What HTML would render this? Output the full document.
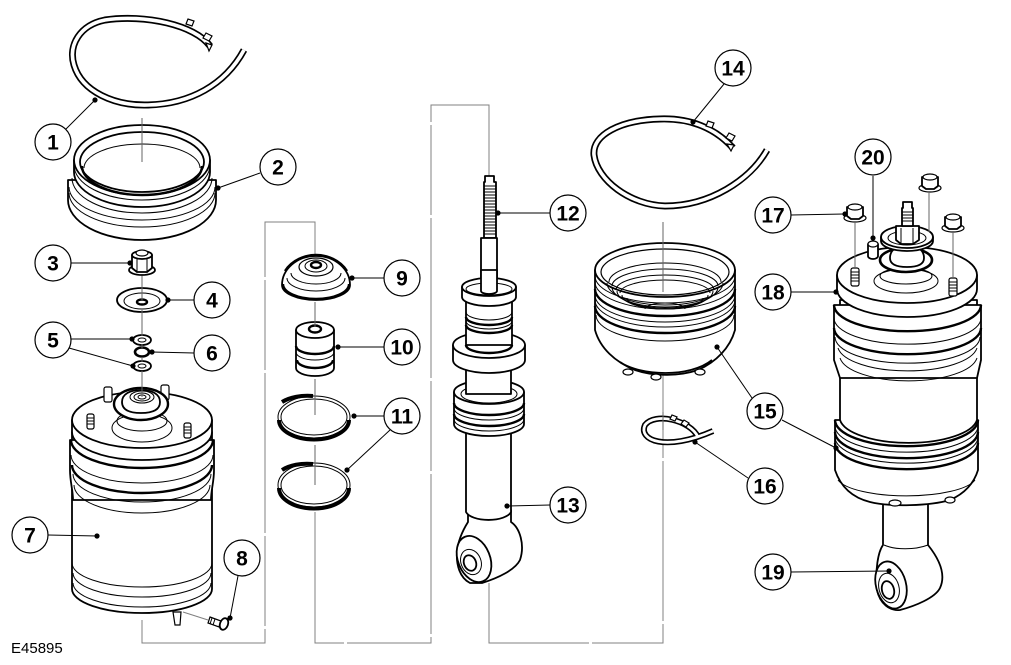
<!DOCTYPE html>
<html><head><meta charset="utf-8"><style>
html,body{margin:0;padding:0;background:#fff}
svg{display:block}
.p{fill:#fff;stroke:#000;stroke-width:1.8;stroke-linejoin:round}
.q{fill:#fff;stroke:#000;stroke-width:1.2}
.d{fill:none;stroke:#000;stroke-width:1}
.t{fill:none;stroke:#000;stroke-width:2.4}
.g{fill:none;stroke:#808080;stroke-width:1;stroke-dasharray:160 3 90 3}
.l{stroke:#000;stroke-width:1;fill:none}
.c{fill:#fff;stroke:#000;stroke-width:1.2}
.n{font-family:"Liberation Sans",sans-serif;font-weight:bold;font-size:21px;text-anchor:middle}
</style></head><body>
<svg width="1011" height="665" viewBox="0 0 1011 665" xmlns="http://www.w3.org/2000/svg">

<!-- bracket guide lines (behind parts) -->
<path class="g" d="M142,620 V643 H265 V222 H315 V256"/>
<path class="g" d="M315,512 V643 H431 V105 H489 V178"/>
<path class="g" d="M489,583 V643 H663 V375"/>

<!-- ===== PART 1 band ===== -->
<path d="M210,46 C195,25 145,14 105,20 C80,25 68,45 74,65 C82,92 115,106 148,105 C190,104 225,85 244,50" fill="none" stroke="#000" stroke-width="7"/>
<path d="M210,46 C195,25 145,14 105,20 C80,25 68,45 74,65 C82,92 115,106 148,105 C190,104 225,85 244,50" fill="none" stroke="#fff" stroke-width="3.6"/>
<path class="q" d="M186,24 l2,-5 l6,2 l-2,5 Z"/>
<path class="q" d="M203,38 l3,-5 l6,3 l-3,5 Z"/>
<path class="q" d="M206,43 l6,2 l-3,6 Z"/>

<!-- ===== PART 2 ring ===== -->
<path class="p" d="M68,180 L68,200 A74,40 0 0 0 216,200 L216,180 Z"/>
<path class="d" d="M69,187 A73,33 0 0 0 215,187"/>
<path class="d" d="M69,193 A73,34 0 0 0 215,193"/>
<path class="d" d="M72,178 A70,35 0 0 0 212,178"/>
<path class="p" d="M74,160 L74,172 A68,35 0 0 0 210,172 L210,160 Z"/>
<path class="d" d="M74,165 A68,35 0 0 0 210,165"/>
<ellipse class="p" cx="142" cy="160" rx="68" ry="35"/>
<ellipse class="p" cx="142" cy="162" rx="62" ry="30"/>
<path class="d" d="M84,168 A58,24 0 0 1 200,168"/>
<path class="t" d="M82,166 A60,29 0 0 0 202,166"/>

<!-- ===== PART 3 nut ===== -->
<ellipse class="p" cx="142" cy="270" rx="13" ry="5"/>
<path class="p" d="M132,255 L132,268 L137,272 L147,272 L152,268 L152,255 Z"/>
<path class="d" d="M137,257 V271 M147,257 V271"/>
<ellipse class="p" cx="142" cy="255" rx="10" ry="4"/>
<ellipse class="q" cx="142" cy="253" rx="6" ry="3"/>

<!-- ===== PART 4 washer ===== -->
<ellipse class="p" cx="142" cy="300" rx="25" ry="12"/>
<ellipse class="d" cx="142" cy="301" rx="18" ry="8"/>
<ellipse class="t" cx="142" cy="302" rx="5" ry="2.5"/>

<!-- ===== PART 5/6 ===== -->
<ellipse class="p" cx="142" cy="340" rx="9" ry="5"/>
<ellipse class="d" cx="142" cy="340" rx="4" ry="2"/>
<ellipse fill="#fff" stroke="#000" stroke-width="2.6" cx="142" cy="352" rx="7" ry="4.5"/>
<ellipse class="p" cx="142" cy="366" rx="9" ry="5"/>
<ellipse class="d" cx="142" cy="366" rx="4" ry="2"/>

<!-- ===== PART 7 air spring ===== -->
<path class="p" d="M72,432 L72,589 A70,24 0 0 0 212,589 L212,432 Z"/>
<path class="d" d="M72,563 A70,24 0 0 0 212,563"/>
<path class="d" d="M73,573 A69,24 0 0 0 211,573"/>
<path class="d" d="M73,583 A69,24 0 0 0 211,583"/>
<path class="p" d="M70,440 L70,470 C70,482 73,490 73,500 L211,500 C211,490 214,482 214,470 L214,440 Z"/>
<path class="t" d="M71,440 A71,28 0 0 0 213,440"/>
<path class="d" d="M71,455 A71,28 0 0 0 213,455"/>
<path class="t" d="M72,465 A70,28 0 0 0 212,465"/>
<path class="d" d="M73,474 A69,28 0 0 0 211,474"/>
<path class="d" d="M74,485 A68,28 0 0 0 210,485"/>
<path class="p" d="M72,420 L72,432 A70,28 0 0 0 212,432 L212,420 Z"/>
<ellipse class="p" cx="142" cy="420" rx="70" ry="28"/>
<ellipse class="d" cx="142" cy="428" rx="30" ry="14"/>
<ellipse class="d" cx="142" cy="421" rx="25" ry="10"/>
<rect class="q" x="87" y="414" width="7" height="15" rx="2"/>
<path class="d" d="M87,418 h7 M87,421 h7 M87,424 h7"/>
<rect class="q" x="184" y="423" width="7" height="15" rx="2"/>
<path class="d" d="M184,427 h7 M184,430 h7 M184,433 h7"/>
<rect class="q" x="104" y="387" width="8" height="15" rx="2"/>
<rect class="q" x="161" y="385" width="8" height="15" rx="2"/>
<ellipse fill="#fff" stroke="#000" stroke-width="2.4" cx="141" cy="404" rx="27" ry="16"/>
<path class="p" d="M122,402 C122,394 130,390 141,390 C152,390 160,394 160,402 C160,410 152,413 141,413 C130,413 122,410 122,402 Z"/>
<ellipse class="d" cx="142" cy="397" rx="12" ry="6"/>
<ellipse class="d" cx="142" cy="397" rx="8" ry="4"/>
<ellipse class="d" cx="142" cy="397" rx="4" ry="2"/>
<path class="q" d="M173,612 l2,13 l5,0 l1,-13 Z"/>

<!-- ===== PART 8 screw ===== -->
<path class="q" d="M210,617 L221,621 L219,627 L208,623 Z"/>
<path class="d" d="M212,618 l-2,6 M215,619 l-2,6"/>
<ellipse class="p" cx="224" cy="624" rx="4" ry="6" transform="rotate(20 224 624)"/>
<path class="g" d="M183,612 L208,620"/>

<!-- ===== PART 9 top mount ===== -->
<path class="p" d="M282,285 C282,270 296,256 316,256 C336,256 350,270 350,285 A34,15 0 0 1 282,285 Z"/>
<path class="t" d="M283,284 A33,15 0 0 0 349,284"/>
<path class="d" d="M287,278 A29,13 0 0 0 345,278"/>
<path class="d" d="M291,273 A25,11 0 0 0 341,273"/>
<ellipse class="q" cx="316" cy="267" rx="17" ry="9"/>
<ellipse class="d" cx="316" cy="266" rx="11" ry="6"/>
<ellipse class="t" cx="316" cy="265" rx="5" ry="3"/>
<path class="t" d="M285,271 C292,260 305,255 316,255 C327,255 340,260 347,271"/>

<!-- ===== PART 10 bump stop ===== -->
<path class="p" d="M296,330 L296,368 A19,8 0 0 0 334,368 L334,330 Z"/>
<path class="t" d="M296,346 A19,8 0 0 0 334,346"/>
<path class="d" d="M296,352 A19,8 0 0 0 334,352"/>
<path class="t" d="M297,360 A18,8 0 0 0 333,360"/>
<ellipse class="p" cx="315" cy="330" rx="19" ry="8"/>
<ellipse class="t" cx="315" cy="329" rx="6" ry="3.5"/>

<!-- ===== PART 11 rings ===== -->
<ellipse class="d" cx="314" cy="417" rx="36" ry="21"/>
<ellipse class="d" cx="314" cy="417" rx="33" ry="18"/>
<path d="M279,420 A35,19.5 0 0 0 349,420" fill="none" stroke="#000" stroke-width="4"/>
<ellipse class="d" cx="314" cy="485" rx="36" ry="22"/>
<ellipse class="d" cx="314" cy="485" rx="33" ry="19"/>
<path d="M279,488 A35,20.5 0 0 0 349,488" fill="none" stroke="#000" stroke-width="4"/>
<path d="M282,470 A33,18 0 0 1 313,464" fill="none" stroke="#000" stroke-width="4"/>
<path d="M282,402 A33,17 0 0 1 313,396" fill="none" stroke="#000" stroke-width="4"/>

<!-- ===== PART 12/13 shock ===== -->
<path class="p" d="M485,176 L494,176 L494,182 L496,182 L496,238 L484,238 L484,182 L485,182 Z"/>
<path class="d" d="M484,186h12M484,189h12M484,192h12M484,195h12M484,198h12M484,201h12M484,204h12M484,207h12M484,210h12M484,213h12M484,216h12M484,219h12M484,222h12M484,225h12M484,228h12M484,231h12M484,234h12"/>
<rect class="p" x="481" y="238" width="16" height="52"/>
<!-- eye -->
<path class="p" d="M468,510 L511,510 L511,522 C520,528 525,545 520,560 C515,570 498,578 482,583 L470,583 C460,578 456,565 457,552 C458,540 463,530 468,522 Z"/>
<ellipse class="p" cx="474" cy="559" rx="16" ry="24" transform="rotate(-22 474 559)"/>
<ellipse class="d" cx="471" cy="562" rx="10" ry="13" transform="rotate(-22 471 562)"/>
<ellipse class="p" cx="470" cy="563" rx="6" ry="8" transform="rotate(-22 470 563)"/>
<!-- tube -->
<path class="p" d="M466,430 L466,512 A23,10 0 0 0 511,512 L511,430 Z"/>
<!-- lower ring -->
<path class="p" d="M454,392 L454,424 A35,12 0 0 0 524,424 L524,392 Z"/>
<path class="t" d="M454,403 A35,12 0 0 0 524,403"/>
<path class="d" d="M454,408 A35,12 0 0 0 524,408"/>
<path class="t" d="M454,414 A35,12 0 0 0 524,414"/>
<path class="d" d="M454,419 A35,12 0 0 0 524,419"/>
<ellipse class="p" cx="489" cy="392" rx="35" ry="12"/>
<ellipse class="d" cx="489" cy="394" rx="28" ry="9"/>
<rect class="p" x="466" y="370" width="45" height="24"/>
<!-- flange -->
<path class="p" d="M453,345 L453,360 A36,13 0 0 0 525,360 L525,345 Z"/>
<ellipse class="p" cx="489" cy="345" rx="36" ry="13"/>
<rect class="p" x="466" y="300" width="46" height="45"/>
<path class="t" d="M466,345 A23,8 0 0 0 512,345"/>
<path class="d" d="M466,312 A23,8 0 0 0 512,312"/>
<path class="t" d="M466,317 A23,8 0 0 0 512,317"/>
<path class="d" d="M466,321 A23,8 0 0 0 512,321"/>
<path class="t" d="M466,325 A23,8 0 0 0 512,325"/>
<!-- top ring -->
<path class="p" d="M462,287 L462,297 A27,9 0 0 0 516,297 L516,287 Z"/>
<ellipse class="p" cx="489" cy="287" rx="27" ry="9"/>
<ellipse class="d" cx="489" cy="289" rx="23" ry="6"/>
<path class="p" d="M481,270 L481,291 A8,3 0 0 0 497,291 L497,270 Z" />

<!-- ===== PART 14 band ===== -->
<path d="M733,148 C715,128 690,118 660,119 C620,120 592,135 594,155 C597,180 630,205 665,206 C710,206 750,180 767,150" fill="none" stroke="#000" stroke-width="7"/>
<path d="M733,148 C715,128 690,118 660,119 C620,120 592,135 594,155 C597,180 630,205 665,206 C710,206 750,180 767,150" fill="none" stroke="#fff" stroke-width="3.6"/>
<path class="q" d="M706,126 l2,-5 l6,2 l-2,5 Z"/>
<path class="q" d="M726,138 l3,-5 l6,3 l-3,5 Z"/>
<path class="q" d="M727,144 l7,1 l-3,6 Z"/>

<!-- ===== PART 15 cup ===== -->
<path class="p" d="M595,270 L595,330 C600,348 615,362 635,370 C655,377 680,376 698,370 C716,362 730,348 735,330 L735,270 Z"/>
<ellipse class="q" cx="628" cy="372" rx="5" ry="3"/>
<ellipse class="q" cx="656" cy="377" rx="5" ry="3"/>
<ellipse class="q" cx="700" cy="372" rx="5" ry="3"/>
<path class="p" d="M620,362 C640,376 690,378 712,360" />
<path class="d" d="M595,276 A70,27 0 0 0 735,276"/>
<path class="d" d="M595,282 A70,27 0 0 0 735,282"/>
<path class="t" d="M595,289 A70,27 0 0 0 735,289"/>
<path class="d" d="M595,295 A70,27 0 0 0 735,295"/>
<path class="d" d="M595,300 A70,27 0 0 0 735,300"/>
<path class="t" d="M595,306 A70,27 0 0 0 735,306"/>
<path class="d" d="M596,315 A69,26 0 0 0 734,315"/>
<ellipse class="p" cx="665" cy="270" rx="70" ry="27"/>
<ellipse class="q" cx="665" cy="272" rx="64" ry="23"/>
<path class="d" d="M609,282 A56,19 0 0 1 721,282"/>
<path class="d" d="M612,286 A53,17 0 0 1 718,286"/>
<path class="d" d="M616,290 A49,15 0 0 1 714,290"/>
<path class="d" d="M620,293 A45,13 0 0 1 710,293"/>
<path class="d" d="M607,283 A58,22 0 0 0 723,283"/>
<path class="d" d="M612,287 A53,20 0 0 0 718,287"/>
<path class="d" d="M617,291 A48,17 0 0 0 713,291"/>
<path class="d" d="M622,295 A43,14 0 0 0 708,295"/>
<path class="d" d="M627,298 A38,11 0 0 0 703,298"/>
<path class="d" d="M645,309 A20,6 0 0 1 685,309"/>

<!-- ===== PART 16 clip ===== -->
<path d="M698,437 C690,420 655,412 645,425 C638,440 665,452 713,431" fill="none" stroke="#000" stroke-width="6"/>
<path d="M698,437 C690,420 655,412 645,425 C638,440 665,452 713,431" fill="none" stroke="#fff" stroke-width="2.8"/>
<path class="q" d="M670,419 l2,-4 l5,2 l-2,4 Z"/>
<path class="q" d="M681,424 l3,-4 l5,3 l-3,4 Z"/>

<!-- ===== RIGHT ASSEMBLY ===== -->
<path class="p" d="M883,490 L883,545 C878,552 875,570 877,590 C880,604 890,611 900,610 C915,606 935,598 940,588 C946,575 940,560 928,545 L928,490 Z"/>
<ellipse class="p" cx="891" cy="585" rx="15" ry="24" transform="rotate(-15 891 585)"/>
<ellipse class="d" cx="889" cy="588" rx="10" ry="15" transform="rotate(-15 889 588)"/>
<ellipse class="p" cx="888" cy="590" rx="6" ry="9" transform="rotate(-15 888 590)"/>
<path class="d" d="M884,545 C895,550 915,550 928,545"/>
<path class="p" d="M835,420 L835,470 C840,485 850,497 870,502 C890,507 930,506 950,500 C968,492 975,480 978,470 L978,420 Z"/>
<ellipse class="q" cx="895" cy="503" rx="6" ry="3"/>
<ellipse class="q" cx="950" cy="500" rx="5" ry="3"/>
<path class="d" d="M838,480 A70,20 0 0 0 975,480"/>
<path class="t" d="M835,420 A71,26 0 0 0 978,420"/>
<path class="d" d="M835,426 A71,26 0 0 0 978,426"/>
<path class="t" d="M835,432 A71,26 0 0 0 978,432"/>
<path class="d" d="M835,437 A71,26 0 0 0 978,437"/>
<path class="t" d="M835,443 A71,26 0 0 0 978,443"/>
<path class="p" d="M840,300 L840,420 A69,26 0 0 0 977,420 L977,300 Z"/>
<path class="d" d="M840,420 A69,26 0 0 0 977,420"/>
<path class="p" d="M834,305 L834,360 L840,378 L977,378 L981,360 L981,305 Z"/>
<path class="t" d="M834,305 A73,26 0 0 0 981,305"/>
<path class="d" d="M834,318 A73,26 0 0 0 981,318"/>
<path class="t" d="M834,328 A73,26 0 0 0 981,328"/>
<path class="d" d="M835,337 A72,26 0 0 0 980,337"/>
<path class="d" d="M838,348 A70,26 0 0 0 977,348"/>
<path class="d" d="M840,358 A69,26 0 0 0 977,358"/>
<path class="p" d="M837,275 L837,289 A70,28 0 0 0 977,289 L977,275 Z"/>
<ellipse class="p" cx="907" cy="275" rx="70" ry="28"/>
<ellipse class="d" cx="906" cy="281" rx="32" ry="12"/>
<ellipse class="d" cx="906" cy="276" rx="26" ry="8"/>
<rect class="q" x="851" y="268" width="8" height="18" rx="2"/>
<path class="d" d="M851,272h8M851,275h8M851,278h8M851,281h8"/>
<rect class="q" x="949" y="278" width="8" height="18" rx="2"/>
<path class="d" d="M949,282h8M949,285h8M949,288h8M949,291h8"/>
<path class="p" d="M868,244 L868,256 A5,3 0 0 0 878,256 L878,244 Z"/>
<ellipse class="q" cx="873" cy="244" rx="5" ry="3"/>
<ellipse fill="#fff" stroke="#000" stroke-width="2.6" cx="906" cy="260" rx="26" ry="12"/>
<path class="p" d="M890,258 C890,250 896,246 907,246 C918,246 924,250 924,258 C924,264 918,267 907,267 C896,267 890,264 890,258 Z"/>
<path class="p" d="M881,237 L881,241 A26,10 0 0 0 933,241 L933,237 Z"/>
<ellipse class="p" cx="907" cy="237" rx="26" ry="11"/>
<ellipse class="d" cx="907" cy="238" rx="19" ry="7"/>
<path class="p" d="M896,226 L896,240 L901,244 L913,244 L919,240 L919,226 Z"/>
<path class="d" d="M901,228 V244 M913,228 V244"/>
<path class="p" d="M903,208 L903,202 L912,202 L912,208 L913,208 L913,226 L902,226 L902,208 Z"/>
<path class="d" d="M902,212h11M902,215h11M902,218h11M902,221h11"/>
<g>
<ellipse class="q" cx="855" cy="218" rx="11" ry="4"/>
<path class="p" d="M847,207 L847,216 L851,219 L859,219 L863,216 L863,207 Z"/>
<ellipse class="q" cx="855" cy="207" rx="7" ry="3"/>
</g>
<g>
<ellipse class="q" cx="930" cy="188" rx="11" ry="4"/>
<path class="p" d="M922,177 L922,186 L926,189 L934,189 L938,186 L938,177 Z"/>
<ellipse class="q" cx="930" cy="177" rx="7" ry="3"/>
</g>
<g>
<ellipse class="q" cx="953" cy="228" rx="11" ry="4"/>
<path class="p" d="M945,217 L945,226 L949,229 L957,229 L961,226 L961,217 Z"/>
<ellipse class="q" cx="953" cy="217" rx="7" ry="3"/>
</g>

<!-- center guide lines (on top of parts) -->
<g stroke="#666" stroke-width="1" fill="none">
<path d="M142,118 V162"/>
<path d="M142,276 V300"/>
<path d="M142,310 V336"/>
<path d="M142,344 V348 M142,357 V362"/>
<path d="M142,371 V397"/>
<path d="M315,302 V327"/>
<path d="M315,379 V415"/>
<path d="M315,445 V485"/>
<path d="M663,222 V292"/>
<path d="M663,412 V430"/>
<path d="M855,222 V267"/>
<path d="M929,192 V232"/>
<path d="M953,232 V277"/>
</g>

<!-- leader lines -->
<g class="l">
<path d="M66,129 L95,100"/>
<path d="M260,173 L218,188"/>
<path d="M71,263 L130,263"/>
<path d="M194,300 L168,300"/>
<path d="M71,339 L132,339"/>
<path d="M69,348 L133,366"/>
<path d="M194,353 L152,352"/>
<path d="M48,535 L97,536"/>
<path d="M238,576 L230,618"/>
<path d="M384,278 L352,278"/>
<path d="M384,347 L338,347"/>
<path d="M384,416 L354,416"/>
<path d="M390,430 L347,470"/>
<path d="M550,213 L498,213"/>
<path d="M550,505 L507,506"/>
<path d="M724,84 L693,122"/>
<path d="M717,347 L752,398"/>
<path d="M782,420 L836,448"/>
<path d="M748,478 L695,442"/>
<path d="M791,215 L844,214"/>
<path d="M791,292 L836,292"/>
<path d="M791,572 L889,571"/>
<path d="M873,176 L873,238"/>
</g>
<g fill="#000">
<circle cx="95" cy="100" r="2.6"/>
<circle cx="218" cy="188" r="2.6"/>
<circle cx="130" cy="263" r="2.6"/>
<circle cx="168" cy="300" r="2.6"/>
<circle cx="132" cy="339" r="2.6"/>
<circle cx="133" cy="366" r="2.6"/>
<circle cx="152" cy="352" r="2.6"/>
<circle cx="97" cy="536" r="2.6"/>
<circle cx="230" cy="618" r="2.6"/>
<circle cx="352" cy="278" r="2.6"/>
<circle cx="338" cy="347" r="2.6"/>
<circle cx="354" cy="416" r="2.6"/>
<circle cx="347" cy="470" r="2.6"/>
<circle cx="498" cy="213" r="2.6"/>
<circle cx="507" cy="506" r="2.6"/>
<circle cx="693" cy="122" r="2.6"/>
<circle cx="717" cy="347" r="2.6"/>
<circle cx="836" cy="448" r="2.6"/>
<circle cx="695" cy="442" r="2.6"/>
<circle cx="845" cy="214" r="2.6"/>
<circle cx="836" cy="292" r="2.6"/>
<circle cx="889" cy="571" r="2.6"/>
<circle cx="873" cy="238" r="2.6"/>
</g>

<!-- callouts -->
<g>
<circle class="c" cx="53" cy="142" r="18"/><text class="n" x="53" y="149.5">1</text>
<circle class="c" cx="278" cy="167" r="18"/><text class="n" x="278" y="174.5">2</text>
<circle class="c" cx="53" cy="263" r="18"/><text class="n" x="53" y="270.5">3</text>
<circle class="c" cx="212" cy="300" r="18"/><text class="n" x="212" y="307.5">4</text>
<circle class="c" cx="53" cy="340" r="18"/><text class="n" x="53" y="347.5">5</text>
<circle class="c" cx="212" cy="353" r="18"/><text class="n" x="212" y="360.5">6</text>
<circle class="c" cx="30" cy="535" r="18"/><text class="n" x="30" y="542.5">7</text>
<circle class="c" cx="242" cy="558" r="18"/><text class="n" x="242" y="565.5">8</text>
<circle class="c" cx="402" cy="278" r="18"/><text class="n" x="402" y="285.5">9</text>
<circle class="c" cx="402" cy="347" r="18"/><text class="n" x="402" y="354.5">10</text>
<circle class="c" cx="402" cy="416" r="18"/><text class="n" x="402" y="423.5">11</text>
<circle class="c" cx="568" cy="213" r="18"/><text class="n" x="568" y="220.5">12</text>
<circle class="c" cx="568" cy="505" r="18"/><text class="n" x="568" y="512.5">13</text>
<circle class="c" cx="733" cy="68" r="18"/><text class="n" x="733" y="75.5">14</text>
<circle class="c" cx="765" cy="411" r="18"/><text class="n" x="765" y="418.5">15</text>
<circle class="c" cx="765" cy="486" r="18"/><text class="n" x="765" y="493.5">16</text>
<circle class="c" cx="773" cy="215" r="18"/><text class="n" x="773" y="222.5">17</text>
<circle class="c" cx="773" cy="292" r="18"/><text class="n" x="773" y="299.5">18</text>
<circle class="c" cx="773" cy="572" r="18"/><text class="n" x="773" y="579.5">19</text>
<circle class="c" cx="873" cy="157" r="18"/><text class="n" x="873" y="164.5">20</text>
</g>

<text x="11" y="653" font-family="'Liberation Sans',sans-serif" font-size="15" fill="#000">E45895</text>
</svg>
</body></html>
